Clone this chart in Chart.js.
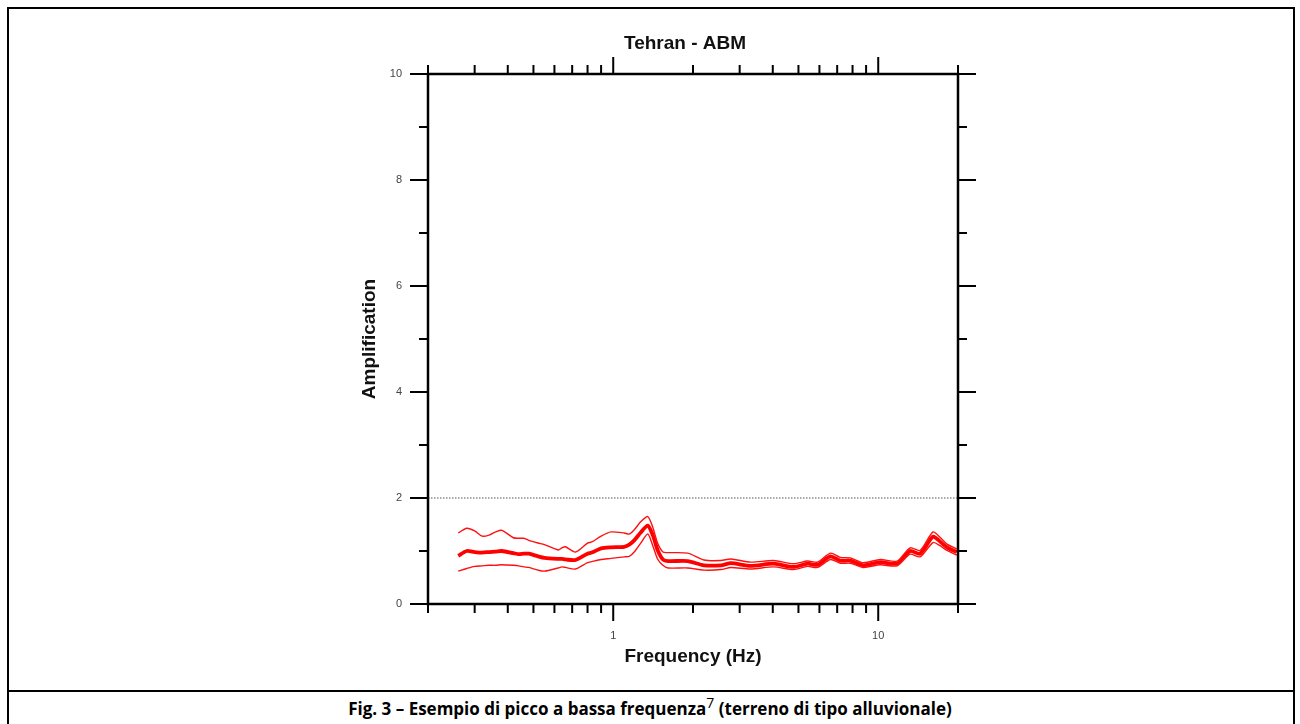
<!DOCTYPE html>
<html>
<head>
<meta charset="utf-8">
<title>Tehran - ABM</title>
<script src="https://cdn.jsdelivr.net/npm/chart.js@4.4.0/dist/chart.umd.min.js"></script>
<style>
  body { margin: 0; background: #fff; }
  #frame { position: absolute; left: 7px; top: 7px; width: 1284px; height: 740px; border: 2px solid #000; }
  #sep { position: absolute; left: 7px; top: 690px; width: 1288px; height: 2px; background: #000; }
  #caption { position: absolute; left: 0; top: 693px; width: 1300px; text-align: center;
    font: bold 17px "Liberation Sans Narrow", "Open Sans", sans-serif; color: #000; }
  #caption sup { font-weight: normal; font-size: 14px; }
  #box { position: absolute; left: 0; top: 0; width: 1300px; height: 690px; }
</style>
</head>
<body>
<div id="frame"></div>
<div id="sep"></div>
<div id="caption">Fig. 3 – Esempio di picco a bassa frequenza<sup>7</sup> (terreno di tipo alluvionale)</div>
<div id="box"><canvas id="hvChart"></canvas></div>
<script>
// frequencies (Hz), shared by the three curves
const freq = [0.26, 0.28, 0.30, 0.32, 0.34, 0.36, 0.38, 0.42, 0.44, 0.46, 0.48, 0.52, 0.55, 0.62, 0.64, 0.66,
  0.72, 0.80, 0.83, 0.90, 0.98, 1.10, 1.15, 1.20, 1.27, 1.35, 1.41, 1.47, 1.54, 1.61, 1.91, 2.2, 2.55, 2.78,
  3.3, 4.03, 4.79, 5.41, 5.9, 6.6, 7.19, 7.85, 8.79, 10.17, 11.78, 13.19, 14.38, 16.1, 17.1, 18.17, 19.8];

// mean amplification
const ampMean = [0.91, 1.00, 0.98, 0.97, 0.98, 0.99, 1.00, 0.96, 0.94, 0.95, 0.95, 0.90, 0.87, 0.85, 0.85, 0.84,
  0.83, 0.95, 0.97, 1.05, 1.07, 1.08, 1.12, 1.20, 1.35, 1.48, 1.30, 1.02, 0.84, 0.81, 0.81, 0.73, 0.73, 0.77,
  0.72, 0.76, 0.70, 0.76, 0.74, 0.90, 0.82, 0.82, 0.73, 0.79, 0.76, 1.00, 0.95, 1.27, 1.18, 1.07, 0.98];

// mean + std
const ampUpper = [1.34, 1.43, 1.38, 1.28, 1.30, 1.36, 1.39, 1.25, 1.24, 1.24, 1.20, 1.15, 1.12, 1.02, 1.06, 1.08,
  0.98, 1.15, 1.17, 1.28, 1.36, 1.34, 1.32, 1.40, 1.55, 1.65, 1.45, 1.15, 0.98, 0.97, 0.96, 0.83, 0.82, 0.85,
  0.79, 0.82, 0.76, 0.81, 0.79, 0.96, 0.88, 0.87, 0.78, 0.84, 0.81, 1.06, 1.01, 1.36, 1.26, 1.13, 1.04];

// mean - std
const ampLower = [0.62, 0.67, 0.71, 0.72, 0.73, 0.73, 0.74, 0.73, 0.72, 0.70, 0.69, 0.64, 0.62, 0.68, 0.70, 0.69,
  0.66, 0.78, 0.80, 0.84, 0.86, 0.89, 0.90, 0.98, 1.15, 1.32, 1.10, 0.85, 0.73, 0.68, 0.68, 0.64, 0.65, 0.69,
  0.66, 0.70, 0.65, 0.71, 0.69, 0.84, 0.77, 0.77, 0.69, 0.74, 0.72, 0.94, 0.89, 1.16, 1.10, 1.01, 0.92];

// dotted reference level
const refFreq = [0.2, 20];
const refAmp = [2, 2];

// axes
const xRange = [0.2, 20];
const yRange = [0, 10];
const xLabelTicks = [1, 10];
const xMajorTicks = [1, 10];
const xMinorTicks = [0.2, 0.3, 0.4, 0.5, 0.6, 0.7, 0.8, 0.9, 2, 3, 4, 5, 6, 7, 8, 9, 20];
const yMajorTicks = [0, 2, 4, 6, 8, 10];
const yMinorTicks = [1, 3, 5, 7, 9];

const toPoints = (xs, ys) => xs.map((x, i) => ({ x: x, y: ys[i] }));
const font = "'Liberation Sans', Arial, sans-serif";

// frame with outward tick marks on all four sides
const framePlugin = {
  id: "frame",
  afterDatasetsDraw(chart) {
    const { ctx, chartArea: a, scales } = chart;
    const xs = scales.x, ys = scales.y;
    ctx.save();
    ctx.strokeStyle = "#000";
    ctx.lineCap = "butt";
    ctx.lineWidth = 2.5;
    ctx.strokeRect(a.left, a.top, a.right - a.left, a.bottom - a.top);
    ctx.lineWidth = 2;
    ctx.beginPath();
    const xTick = (v, len) => {
      const px = xs.getPixelForValue(v);
      ctx.moveTo(px, a.bottom); ctx.lineTo(px, a.bottom + len);
      ctx.moveTo(px, a.top); ctx.lineTo(px, a.top - len);
    };
    const yTick = (v, len) => {
      const py = ys.getPixelForValue(v);
      ctx.moveTo(a.left, py); ctx.lineTo(a.left - len, py);
      ctx.moveTo(a.right, py); ctx.lineTo(a.right + len, py);
    };
    xMinorTicks.forEach(v => xTick(v, 9));
    xMajorTicks.forEach(v => xTick(v, 17));
    yMinorTicks.forEach(v => yTick(v, 9));
    yMajorTicks.forEach(v => yTick(v, 18));
    ctx.stroke();
    ctx.restore();
  }
};

const ctx = document.getElementById("hvChart");

new Chart(ctx, {
  type: "line",
  data: {
    datasets: [
      {
        label: "2",
        data: toPoints(refFreq, refAmp),
        borderColor: "#555",
        borderWidth: 1,
        borderDash: [1.5, 1.5],
        pointRadius: 0
      },
      {
        label: "mean + std",
        data: toPoints(freq, ampUpper),
        borderColor: "#ff1010",
        borderWidth: 1.4,
        pointRadius: 0,
        tension: 0.25
      },
      {
        label: "mean - std",
        data: toPoints(freq, ampLower),
        borderColor: "#ff1010",
        borderWidth: 1.4,
        pointRadius: 0,
        tension: 0.25
      },
      {
        label: "mean",
        data: toPoints(freq, ampMean),
        borderColor: "#ff0000",
        borderWidth: 3.8,
        pointRadius: 0,
        tension: 0.25
      }
    ]
  },
  options: {
    responsive: true,
    maintainAspectRatio: false,
    animation: false,
    layout: { padding: { left: 340, right: 270, top: 0, bottom: 0 } },
    plugins: {
      legend: { display: false },
      tooltip: { enabled: false },
      title: {
        display: true,
        text: "Tehran - ABM",
        color: "#111",
        font: { family: font, size: 19, weight: "bold", lineHeight: 1.2 },
        padding: { top: 32, bottom: 19.2 }
      }
    },
    scales: {
      x: {
        type: "logarithmic",
        min: xRange[0],
        max: xRange[1],
        grid: { display: false, drawTicks: false },
        border: { display: false },
        afterBuildTicks: (scale) => { scale.ticks = xLabelTicks.map(v => ({ value: v })); },
        afterFit: (scale) => { scale.height = 86; },
        ticks: {
          color: "#444",
          font: { family: font, size: 11 },
          padding: 25,
          maxRotation: 0,
          callback: (v) => String(v)
        },
        title: {
          display: true,
          text: "Frequency (Hz)",
          color: "#111",
          font: { family: font, size: 19, weight: "bold", lineHeight: 1.2 },
          padding: { top: 0, bottom: 22 }
        }
      },
      y: {
        min: yRange[0],
        max: yRange[1],
        grid: { display: false, drawTicks: false },
        border: { display: false },
        afterBuildTicks: (scale) => { scale.ticks = yMajorTicks.map(v => ({ value: v })); },
        afterFit: (scale) => { scale.width = 88; },
        ticks: {
          color: "#444",
          font: { family: font, size: 11 },
          padding: 26
        },
        title: {
          display: true,
          text: "Amplification",
          color: "#111",
          font: { family: font, size: 19, weight: "bold", lineHeight: 1.2 },
          padding: { top: 18, bottom: 0 }
        }
      },
      y2: {
        position: "right",
        min: yRange[0],
        max: yRange[1],
        grid: { display: false, drawTicks: false },
        border: { display: false },
        ticks: { display: false },
        afterFit: (scale) => { scale.width = 72; }
      }
    }
  },
  plugins: [framePlugin]
});
</script>
</body>
</html>
